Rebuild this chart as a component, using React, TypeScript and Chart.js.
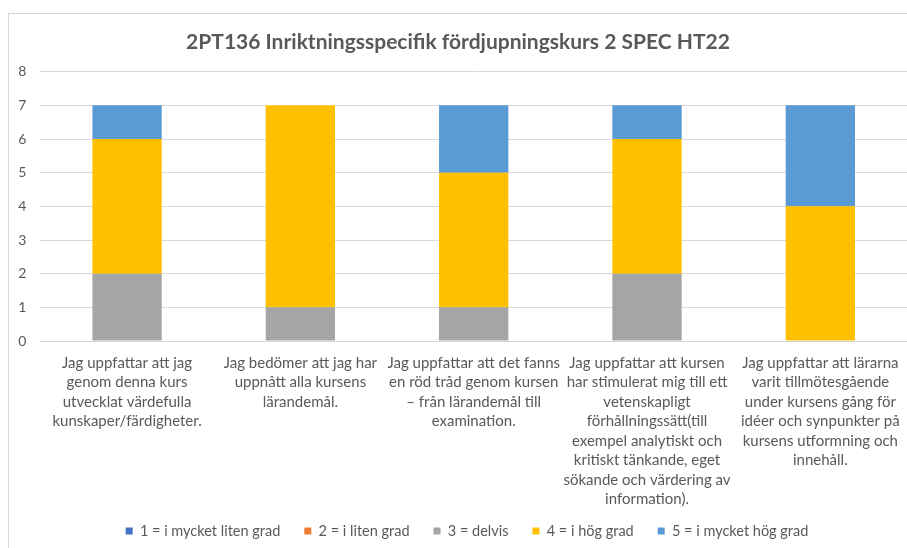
import React, { useEffect, useRef } from "react";
import { Chart, registerables } from "chart.js";

Chart.register(...registerables);

const titleText = "2PT136 Inriktningsspecifik fördjupningskurs 2 SPEC HT22";

const categories: string[][] = [
  ["Jag uppfattar att jag", "genom denna kurs", "utvecklat värdefulla", "kunskaper/färdigheter."],
  ["Jag bedömer att jag har", "uppnått alla kursens", "lärandemål."],
  ["Jag uppfattar att det fanns", "en röd tråd genom kursen", "– från lärandemål till", "examination."],
  [
    "Jag uppfattar att kursen",
    "har stimulerat mig till ett",
    "vetenskapligt",
    "förhållningssätt(till",
    "exempel analytiskt och",
    "kritiskt tänkande, eget",
    "sökande och värdering av",
    "information).",
  ],
  [
    "Jag uppfattar att lärarna",
    "varit tillmötesgående",
    "under kursens gång för",
    "idéer och synpunkter på",
    "kursens utformning och",
    "innehåll.",
  ],
];

const seriesNames = [
  "1 = i mycket liten grad",
  "2 = i liten grad",
  "3 = delvis",
  "4 = i hög grad",
  "5 = i mycket hög grad",
];

const s1 = [0, 0, 0, 0, 0];
const s2 = [0, 0, 0, 0, 0];
const s3 = [2, 1, 1, 2, 0];
const s4 = [4, 6, 4, 4, 4];
const s5 = [1, 0, 2, 1, 3];

const seriesColors = ["#4472C4", "#ED7D31", "#A5A5A5", "#FFC000", "#5B9BD5"];

const yMin = 0;
const yMax = 8;
const yStep = 1;

const legendFontSize = 14.5;
const legendPadding = 24;

const legendShift = {
  id: "legendShift",
  afterLayout(chart: any) {
    const lg = chart.legend;
    if (!lg) return;
    const center = 517; // canvas y of legend row center
    const newTop = center - legendPadding - legendFontSize / 2;
    lg.top = newTop;
    lg.height = legendPadding * 2 + legendFontSize;
    lg.bottom = newTop + lg.height;
    lg.left += 9;
    lg.right += 9;
  },
};

export default function App() {
  const ref = useRef<HTMLCanvasElement | null>(null);

  useEffect(() => {
    if (!ref.current) return;
    const values = [s1, s2, s3, s4, s5];
    const chart = new Chart(ref.current, {
      type: "bar",
      data: {
        labels: categories as any,
        datasets: values.map((v, i) => ({
          label: seriesNames[i],
          data: v,
          backgroundColor: seriesColors[i],
          borderWidth: 0,
          categoryPercentage: 0.8,
          barPercentage: 0.5,
        })),
      },
      plugins: [legendShift],
      options: {
        responsive: false,
        animation: false,
        layout: { padding: { top: 16, left: 0, right: 0, bottom: 0 } },
        plugins: {
          title: {
            display: true,
            text: titleText,
            color: "#595959",
            font: { family: "Lato", size: 21, weight: "bold", lineHeight: 1.2 },
            padding: { top: 0, bottom: 16.5 },
          },
          legend: {
            position: "bottom",
            maxHeight: 30,
            labels: {
              boxWidth: 7,
              boxHeight: 7,
              padding: legendPadding,
              color: "#595959",
              font: { family: "Lato", size: legendFontSize },
            },
          },
          tooltip: { enabled: false },
        },
        scales: {
          x: {
            stacked: true,
            grid: { display: false, drawTicks: false },
            border: { display: true, color: "#d9d9d9" },
            ticks: {
              autoSkip: false,
              maxRotation: 0,
              minRotation: 0,
              padding: 12,
              color: "#595959",
              font: { family: "Lato", size: 15, lineHeight: 1.3 },
            },
            afterFit: (scale: any) => {
              scale.height = 177;
              scale.paddingLeft = 0;
              scale.paddingRight = 0;
            },
          },
          y: {
            stacked: true,
            min: yMin,
            max: yMax,
            ticks: {
              stepSize: yStep,
              padding: 14,
              color: "#595959",
              font: { family: "Lato", size: 14 },
            },
            grid: { color: "#d9d9d9", drawTicks: false },
            border: { display: false },
            afterFit: (scale: any) => {
              scale.width = 31.4;
            },
          },
        },
      },
    });
    return () => chart.destroy();
  }, []);

  return (
    <div
      style={{
        position: "fixed",
        left: 8,
        top: 13,
        width: 899,
        height: 535,
        borderLeft: "1px solid #d9d9d9",
        borderTop: "1px solid #d9d9d9",
        boxSizing: "border-box",
        background: "#fff",
      }}
    >
      <canvas ref={ref} width={898} height={534} style={{ display: "block" }} />
    </div>
  );
}
